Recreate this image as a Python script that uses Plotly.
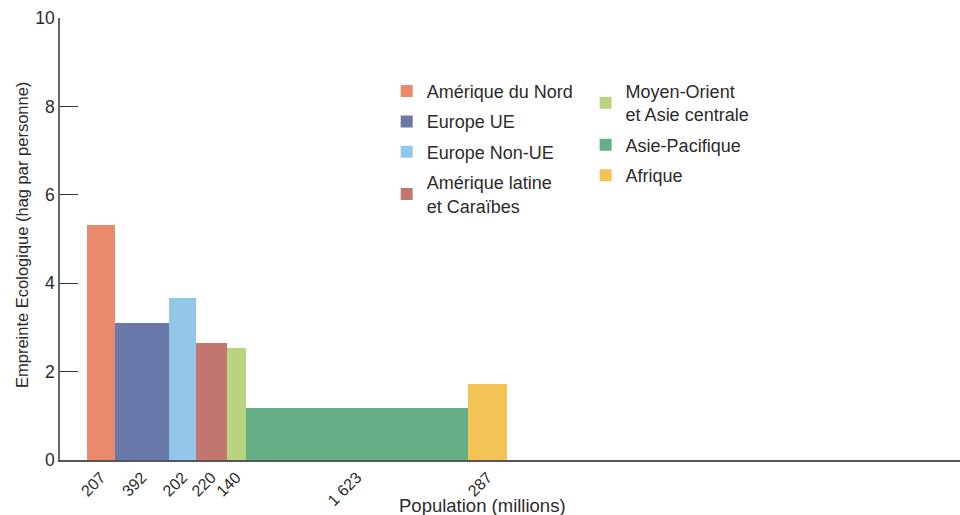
import plotly.graph_objects as go

regions = ["Amérique du Nord", "Europe UE", "Europe Non-UE", "Amérique latine<br>et Caraïbes",
           "Moyen-Orient<br>et Asie centrale", "Asie-Pacifique", "Afrique"]
population = [207, 392, 202, 220, 140, 1623, 287]
footprint = [5.32, 3.10, 3.67, 2.65, 2.53, 1.18, 1.72]
pop_labels = ["207", "392", "202", "220", "140", "1 623", "287"]
colors = ["#EA8A6C", "#6879A9", "#92C7E9", "#C2766F", "#B9D47F", "#64AF85", "#F3C356"]
legend_ids = ["legend", "legend", "legend", "legend", "legend2", "legend2", "legend2"]

x_start = 195
x_max = 6570

centers = []
edge = x_start
for p in population:
    centers.append(edge + p / 2)
    edge += p

fig = go.Figure()
for i in range(len(regions)):
    fig.add_trace(go.Bar(
        x=[centers[i]], y=[footprint[i]], width=[population[i]],
        name=regions[i], marker=dict(color=colors[i], line=dict(width=0)),
        legend=legend_ids[i], legendgroup=str(i),
    ))

txt = "#2b2b2b"
font = "Liberation Sans, Arial, sans-serif"
fig.update_layout(
    width=960, height=515,
    margin=dict(l=60, r=0, t=18, b=55),
    plot_bgcolor="white", paper_bgcolor="white",
    font=dict(family=font, color=txt, size=17),
    barmode="overlay", bargap=0,
    xaxis=dict(range=[0, x_max], tickvals=centers, ticktext=pop_labels, tickangle=-45,
               showgrid=False, zeroline=False, showline=True, linecolor="#555", linewidth=1.5,
               ticks="", tickfont=dict(size=16, color=txt), fixedrange=True, automargin=False),
    yaxis=dict(range=[0, 10], tickvals=[0, 2, 4, 6, 8, 10], showgrid=False, zeroline=False,
               showline=True, linecolor="#666", linewidth=1.5, ticks="inside", ticklen=18,
               tickcolor="#333", tickwidth=1.2, tickfont=dict(size=17.5, color=txt),
               automargin=False),
    legend=dict(x=0.363, y=0.876, xanchor="left", yanchor="top", tracegroupgap=4,
                font=dict(size=18, color=txt), bgcolor="rgba(0,0,0,0)"),
    legend2=dict(x=0.584, y=0.876, xanchor="left", yanchor="top", tracegroupgap=4,
                 font=dict(size=18, color=txt), bgcolor="rgba(0,0,0,0)"),
    annotations=[
        dict(text="Population (millions)", xref="paper", yref="paper",
             x=(482 - 60) / 900, y=(460 - 505) / 442, xanchor="center", yanchor="middle",
             showarrow=False, font=dict(size=18.5, color=txt)),
        dict(text="Empreinte Ecologique (hag par personne)", xref="paper", yref="paper",
             x=(22 - 60) / 900, y=(460 - 235) / 442, xanchor="center", yanchor="middle",
             textangle=-90, showarrow=False, font=dict(size=16.5, color=txt)),
    ],
)
fig.write_html("out.html", config={"displayModeBar": False},
               post_script="document.body.style.margin='0';document.body.style.padding='0';")
